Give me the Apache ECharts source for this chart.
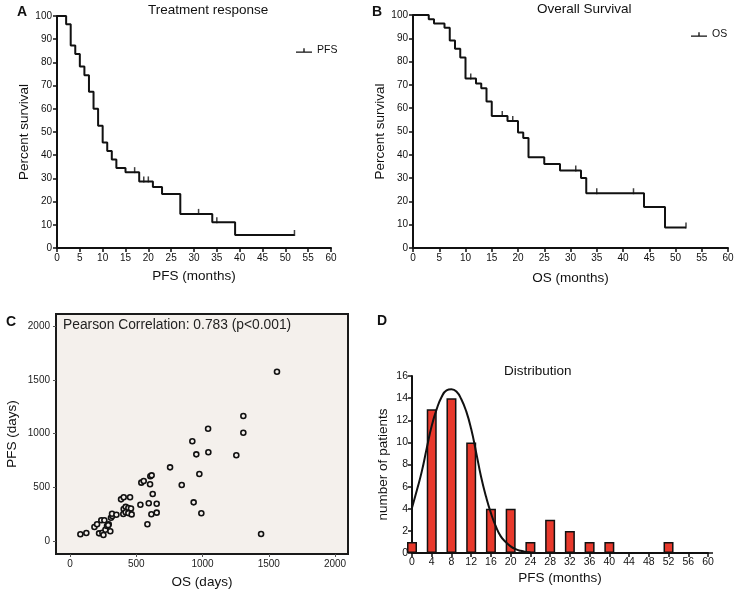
<!DOCTYPE html>
<html>
<head>
<meta charset="utf-8">
<script src="https://cdn.jsdelivr.net/npm/echarts@6/dist/echarts.min.js"></script>
<style>
html,body{margin:0;padding:0;background:#fff;}
#chart{width:738px;height:591px;}
</style>
</head>
<body>
<div id="chart"></div>
<script>
// ---- Panel A: PFS Kaplan-Meier ----
const pfsTimes = [0, 2, 3, 4, 5, 6, 7, 8, 9, 10, 11, 12, 13, 15, 18, 21, 23, 27, 34, 39, 52];
const pfsSurv  = [100, 96.4, 87.3, 83.6, 78.2, 74.5, 67.3, 60, 52.7, 45.5, 41.8, 38.2, 34.5, 32.7, 28.7, 26.3, 23.3, 14.7, 11.1, 5.6, 5.6];
const pfsCensorTimes = [17, 19, 20, 31, 35, 52];
const pfsCensorSurv  = [32.7, 28.7, 28.7, 14.7, 11.1, 5.6];

// ---- Panel B: OS Kaplan-Meier ----
const osTimes = [0, 3, 4, 6, 7, 8, 9, 10, 12, 13, 14, 15, 18, 20, 21, 22, 25, 28, 32, 33, 44, 48, 52];
const osSurv  = [100, 98.2, 96.4, 94.5, 89.1, 85.5, 81.8, 72.7, 70.6, 68.6, 62.9, 56.7, 54.5, 49.6, 47.2, 38.9, 36.1, 33.3, 30.0, 23.5, 17.6, 8.8, 8.8];
const osCensorTimes = [11, 17, 19, 31, 35, 42, 52];
const osCensorSurv  = [72.7, 56.7, 54.5, 33.3, 23.5, 23.5, 8.8];

// ---- Panel C: OS vs PFS (days) ----
const osDays  = [78, 123, 184, 204, 219, 244, 252, 267, 279, 292, 304, 236, 259, 309, 319, 317, 350, 385, 405, 453, 402, 405, 420, 440, 460, 420, 440, 465, 531, 538, 556, 594, 604, 606, 616, 624, 654, 614, 654, 584, 755, 843, 933, 991, 976, 923, 953, 1042, 1044, 1255, 1308, 1308, 1442, 1562, 288];
const pfsDays = [65, 77, 133, 158, 74, 80, 58, 108, 142, 158, 93, 195, 195, 219, 235, 256, 247, 390, 409, 409, 254, 300, 320, 310, 305, 270, 262, 250, 340, 545, 560, 353, 530, 605, 613, 440, 349, 251, 266, 158, 687, 523, 362, 260, 625, 929, 808, 1046, 827, 799, 1164, 1009, 68, 1576, 150];
const dayTicks = [0, 500, 1000, 1500, 2000];

// ---- Panel D: PFS distribution ----
const histBins   = [0, 4, 8, 12, 16, 20, 24, 28, 32, 36, 40, 44, 48, 52, 56, 60];
const histCounts = [1, 13, 14, 10, 4, 4, 1, 3, 2, 1, 1, 0, 0, 1, 0, 0];
const curveX = [0, 1, 2, 3, 4, 5, 6, 7, 8, 9, 10, 11, 12, 13, 14, 15, 16, 17, 18, 19, 20, 21, 22, 23, 24];
const curveY = [4.1, 5.7, 7.4, 9.5, 11.5, 13.0, 14.1, 14.7, 14.8, 14.6, 13.9, 12.8, 11.2, 9.1, 6.9, 5.1, 3.6, 2.4, 1.5, 1.0, 0.6, 0.35, 0.2, 0.1, 0.05];

const zip = (a, b) => a.map((v, i) => [v, b[i]]);
const FONT = '"Liberation Sans", Arial, sans-serif';
const black = '#111';

function axisBase(extra) {
  return Object.assign({
    axisLine: { show: true, onZero: false, lineStyle: { color: black, width: 2 } },
    axisTick: { show: true, inside: false, length: 4, lineStyle: { color: black, width: 1.5 } },
    axisLabel: { color: black, fontSize: 10, fontFamily: FONT, margin: 5 },
    splitLine: { show: false },
    nameLocation: 'middle',
    nameTextStyle: { color: black, fontSize: 13.5, fontFamily: FONT }
  }, extra);
}

const legendIcon = 'path://M0,6h24v2h-24z M11,1h2v6h-2z';
const plain = v => String(v);

const chart = echarts.init(document.getElementById('chart'), null, { renderer: 'canvas' });
chart.setOption({
  animation: false,
  backgroundColor: '#fff',
  textStyle: { fontFamily: FONT },
  grid: [
    { left: 57, top: 16, width: 274, height: 232 },
    { left: 413, top: 15, width: 315, height: 233 },
    { left: 56, top: 314, width: 292, height: 240, show: true, backgroundColor: '#F4F0EC', borderColor: '#1a1a1a', borderWidth: 2 },
    { left: 412, top: 376, width: 296, height: 177 }
  ],
  xAxis: [
    axisBase({ type: 'value', gridIndex: 0, min: 0, max: 60, interval: 5, name: 'PFS (months)', nameGap: 21 }),
    axisBase({ type: 'value', gridIndex: 1, min: 0, max: 60, interval: 5, name: 'OS (months)', nameGap: 23 }),
    axisBase({ type: 'value', gridIndex: 2, min: -106, max: 2098, name: 'OS (days)', nameGap: 21,
      axisLine: { show: false, onZero: false },
      axisTick: { show: true, length: 3, lineStyle: { color: '#555', width: 1 }, customValues: dayTicks },
      axisLabel: { color: '#222', fontSize: 10, fontFamily: FONT, margin: 5, customValues: dayTicks, formatter: plain } }),
    axisBase({ type: 'value', gridIndex: 3, min: 0, max: 60, interval: 4, name: 'PFS (months)', nameGap: 18,
      axisLabel: { color: black, fontSize: 10.5, fontFamily: FONT, margin: 4 } })
  ],
  yAxis: [
    axisBase({ type: 'value', gridIndex: 0, min: 0, max: 100, interval: 10, name: 'Percent survival', nameGap: 25 }),
    axisBase({ type: 'value', gridIndex: 1, min: 0, max: 100, interval: 10, name: 'Percent survival', nameGap: 26 }),
    axisBase({ type: 'value', gridIndex: 2, min: -118, max: 2112, name: 'PFS (days)', nameGap: 37,
      axisLine: { show: false, onZero: false },
      axisTick: { show: true, length: 3, lineStyle: { color: '#555', width: 1 }, customValues: dayTicks },
      axisLabel: { color: '#222', fontSize: 10, fontFamily: FONT, margin: 6, customValues: dayTicks, formatter: plain } }),
    axisBase({ type: 'value', gridIndex: 3, min: 0, max: 16, interval: 2, name: 'number of patients', nameGap: 22,
      axisLabel: { color: black, fontSize: 10.5, fontFamily: FONT, margin: 4 } })
  ],
  legend: [
    { data: [{ name: 'PFS', icon: legendIcon }], left: 291, top: 40, itemWidth: 16, itemHeight: 8,
      textStyle: { color: black, fontSize: 10.5, fontFamily: FONT }, selectedMode: false },
    { data: [{ name: 'OS', icon: legendIcon }], left: 686, top: 24, itemWidth: 16, itemHeight: 8,
      textStyle: { color: black, fontSize: 10.5, fontFamily: FONT }, selectedMode: false }
  ],
  graphic: [
    { type: 'text', left: 17, top: 5, style: { text: 'A', font: 'bold 14px ' + FONT, fill: black } },
    { type: 'text', left: 372, top: 5, style: { text: 'B', font: 'bold 14px ' + FONT, fill: black } },
    { type: 'text', left: 6, top: 315, style: { text: 'C', font: 'bold 14px ' + FONT, fill: black } },
    { type: 'text', left: 377, top: 314, style: { text: 'D', font: 'bold 14px ' + FONT, fill: black } },
    { type: 'text', left: 148, top: 3, style: { text: 'Treatment response', font: '13.5px ' + FONT, fill: black } },
    { type: 'text', left: 537, top: 2, style: { text: 'Overall Survival', font: '13.5px ' + FONT, fill: black } },
    { type: 'text', left: 504, top: 364, style: { text: 'Distribution', font: '13.5px ' + FONT, fill: black } },
    { type: 'text', left: 63, top: 318, style: { text: 'Pearson Correlation: 0.783 (p<0.001)', font: '13.8px ' + FONT, fill: '#222' } }
  ],
  series: [
    { name: 'PFS', type: 'line', xAxisIndex: 0, yAxisIndex: 0, step: 'end', showSymbol: false, symbol: 'none',
      data: zip(pfsTimes, pfsSurv), lineStyle: { color: black, width: 2 }, itemStyle: { color: black } },
    { name: 'pfsCensor', type: 'scatter', xAxisIndex: 0, yAxisIndex: 0, symbol: 'rect', symbolSize: [1.5, 6], symbolOffset: [0, -2],
      data: zip(pfsCensorTimes, pfsCensorSurv), itemStyle: { color: black } },
    { name: 'OS', type: 'line', xAxisIndex: 1, yAxisIndex: 1, step: 'end', showSymbol: false, symbol: 'none',
      data: zip(osTimes, osSurv), lineStyle: { color: black, width: 2 }, itemStyle: { color: black } },
    { name: 'osCensor', type: 'scatter', xAxisIndex: 1, yAxisIndex: 1, symbol: 'rect', symbolSize: [1.5, 6], symbolOffset: [0, -2],
      data: zip(osCensorTimes, osCensorSurv), itemStyle: { color: black } },
    { name: 'corr', type: 'scatter', xAxisIndex: 2, yAxisIndex: 2, symbol: 'circle', symbolSize: 5,
      data: zip(osDays, pfsDays), itemStyle: { color: '#F4F0EC', borderColor: '#111', borderWidth: 1.6, opacity: 1 } },
    { name: 'hist', type: 'bar', xAxisIndex: 3, yAxisIndex: 3, barWidth: 10, clip: false,
      data: zip(histBins, histCounts), itemStyle: { color: '#E8392C', borderColor: '#111', borderWidth: 1.5 } },
    { name: 'fit', type: 'line', xAxisIndex: 3, yAxisIndex: 3, smooth: true, symbol: 'none', showSymbol: false,
      data: zip(curveX, curveY), lineStyle: { color: black, width: 2 } }
  ]
});
</script>
</body>
</html>
